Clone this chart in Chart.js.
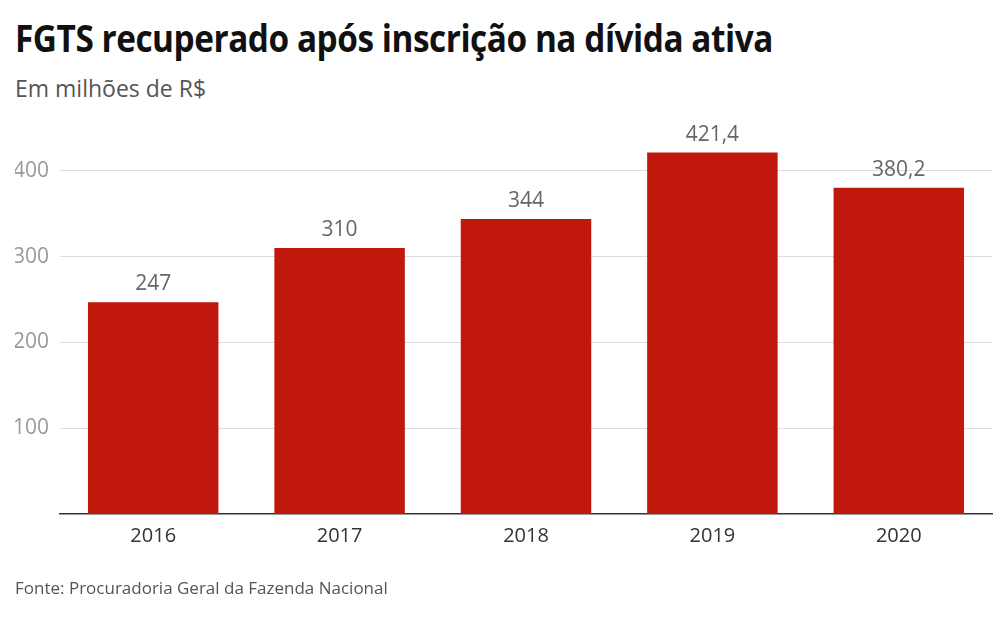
<!DOCTYPE html>
<html lang="pt-BR">
<head>
<meta charset="utf-8">
<script src="https://cdn.jsdelivr.net/npm/chart.js@4/dist/chart.umd.min.js"></script>
<style>
  html, body { margin: 0; padding: 0; background: #fff; }
  body { width: 1008px; height: 632px; position: relative; overflow: hidden; font-family: "Open Sans", sans-serif; }
  #title { position: absolute; left: 15px; top: 12px; margin: 0; font-size: 37px; font-weight: 700; color: #111; white-space: nowrap; transform-origin: left top; letter-spacing: -0.5px; }
  #subtitle { position: absolute; left: 15px; top: 72px; font-size: 23px; color: #555; white-space: nowrap; }
  #source { position: absolute; left: 15px; top: 576px; font-size: 17px; color: #555; white-space: nowrap; }
  #fgtsChart { position: absolute; left: 0; top: 0; }
</style>
</head>
<body>
<h1 id="title">FGTS recuperado após inscrição na dívida ativa</h1>
<div id="subtitle">Em milhões de R$</div>
<canvas id="fgtsChart" width="1008" height="632"></canvas>
<div id="source">Fonte: Procuradoria Geral da Fazenda Nacional</div>
<script>
const years = ["2016", "2017", "2018", "2019", "2020"];
const recovered = [247, 310, 344, 421.4, 380.2];
const yTicks = [100, 200, 300, 400];

// title is condensed in the original, squeeze it to the same width
const title = document.getElementById("title");
const w = title.getBoundingClientRect().width;
title.style.transform = "scaleX(" + (758 / w) + ")";

const valueLabels = {
  id: "valueLabels",
  afterDatasetsDraw(chart) {
    const ctx = chart.ctx;
    const meta = chart.getDatasetMeta(0);
    ctx.save();
    ctx.font = "21px 'Open Sans'";
    ctx.fillStyle = "#666";
    ctx.textAlign = "center";
    ctx.textBaseline = "alphabetic";
    meta.data.forEach((bar, i) => {
      ctx.fillText(recovered[i].toLocaleString("pt-BR"), bar.x, bar.y - 12);
    });
    ctx.restore();
  },
};

new Chart(document.getElementById("fgtsChart"), {
  type: "bar",
  data: {
    labels: years,
    datasets: [
      {
        data: recovered,
        backgroundColor: "#c0180c",
        barPercentage: 0.7,
        categoryPercentage: 1,
      },
    ],
  },
  options: {
    responsive: false,
    animation: false,
    devicePixelRatio: 1,
    layout: { padding: { left: 15, right: 16, top: 128, bottom: 78 } },
    plugins: {
      legend: { display: false },
      tooltip: { enabled: false },
    },
    scales: {
      x: {
        grid: { display: false, drawTicks: false },
        border: { display: true, color: "#333", width: 1.5 },
        ticks: { color: "#333", font: { family: "Open Sans", size: 20 }, padding: 10 },
        afterFit(scale) { scale.height = 40; },
      },
      y: {
        min: 0,
        max: 450,
        afterBuildTicks(scale) {
          scale.ticks = yTicks.map((v) => ({ value: v }));
        },
        grid: { color: "#ddd", drawTicks: false },
        border: { display: false },
        ticks: { color: "#999", font: { family: "Open Sans", size: 21 }, padding: 11 },
        afterFit(scale) { scale.width = 45; },
      },
    },
  },
  plugins: [valueLabels],
});
</script>
</body>
</html>
